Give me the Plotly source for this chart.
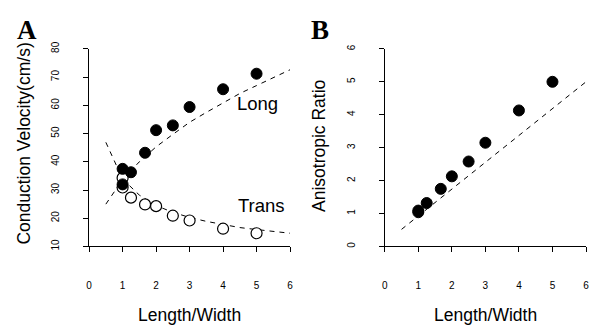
import plotly.graph_objects as go

# ---- data ----
ratio = [1, 1, 1.25, 1.67, 2, 2.5, 3, 4, 5]
long_cv = [37.5, 32.0, 36.3, 43.2, 51.2, 52.9, 59.4, 65.7, 71.2]
trans_cv = [34.3, 30.9, 27.3, 24.9, 24.3, 20.9, 19.2, 16.3, 14.7]
aniso = [1.09, 1.04, 1.32, 1.75, 2.13, 2.58, 3.15, 4.13, 5.0]

fit_x = [0.5, 1, 1.5, 2, 2.5, 3, 3.5, 4, 4.5, 5, 5.5, 6]
long_fit = [25.0, 33.7, 40.0, 45.3, 49.7, 54.0, 57.5, 61.0, 64.2, 67.0, 69.8, 72.6]
trans_fit = [46.9, 33.9, 28.2, 24.5, 22.1, 20.3, 18.9, 17.7, 16.7, 16.0, 15.3, 14.7]
aniso_fit_x = [0.5, 6]
aniso_fit = [0.52, 5.0]

x_ticks = [0, 1, 2, 3, 4, 5, 6]
cv_ticks = [10, 20, 30, 40, 50, 60, 70, 80]
ar_ticks = [0, 1, 2, 3, 4, 5, 6]

W, H = 589, 332
FONT = "Liberation Sans, Arial, sans-serif"
SERIF = "Liberation Serif, Times New Roman, serif"
DASH = "5px,5px"

fig = go.Figure()

# Panel A
fig.add_trace(go.Scatter(x=fit_x, y=long_fit, mode="lines",
                         line=dict(color="black", width=1, dash=DASH),
                         xaxis="x", yaxis="y", showlegend=False))
fig.add_trace(go.Scatter(x=fit_x, y=trans_fit, mode="lines",
                         line=dict(color="black", width=1, dash=DASH),
                         xaxis="x", yaxis="y", showlegend=False))
fig.add_trace(go.Scatter(x=ratio, y=trans_cv, mode="markers",
                         marker=dict(symbol="circle", size=11, color="white",
                                     line=dict(color="black", width=1.2)),
                         xaxis="x", yaxis="y", showlegend=False))
fig.add_trace(go.Scatter(x=ratio, y=long_cv, mode="markers",
                         marker=dict(symbol="circle", size=11, color="black",
                                     line=dict(color="black", width=1)),
                         xaxis="x", yaxis="y", showlegend=False))

# Panel B
fig.add_trace(go.Scatter(x=aniso_fit_x, y=aniso_fit, mode="lines",
                         line=dict(color="black", width=1, dash=DASH),
                         xaxis="x2", yaxis="y2", showlegend=False))
fig.add_trace(go.Scatter(x=ratio, y=aniso, mode="markers",
                         marker=dict(symbol="circle", size=11, color="black",
                                     line=dict(color="black", width=1)),
                         xaxis="x2", yaxis="y2", showlegend=False))

ydom = [1 - 247.7 / H, 1 - 43.3 / H]

common_x = dict(range=[0, 6], tickvals=x_ticks, showline=True, linecolor="black",
                linewidth=1, ticks="outside", ticklen=5, tickwidth=1, tickcolor="black",
                showgrid=False, zeroline=False, ticklabelstandoff=25,
                tickfont=dict(family=FONT, size=10, color="black"))
common_y = dict(showline=True, linecolor="black", linewidth=1, ticks="outside",
                ticklen=5, tickwidth=1, tickcolor="black", showgrid=False,
                zeroline=False, tickangle=-90, ticklabelstandoff=20,
                tickfont=dict(family=FONT, size=10, color="black"))

fig.update_layout(
    width=W, height=H, margin=dict(l=0, r=0, t=0, b=0),
    paper_bgcolor="white", plot_bgcolor="white",
    xaxis=dict(domain=[87 / W, 290 / W], anchor="y", **common_x),
    yaxis=dict(domain=ydom, range=[10, 80], tickvals=cv_ticks, anchor="x", **common_y),
    xaxis2=dict(domain=[385.7 / W, 1.0], anchor="y2", ticklabeloverflow="allow", **common_x),
    yaxis2=dict(domain=ydom, range=[0, 6], tickvals=ar_ticks, anchor="x2", **common_y),
)

def ann(text, x, y, size, family=FONT, angle=0, bold=False):
    fig.add_annotation(text=("<b>%s</b>" % text) if bold else text,
                       x=x / W, y=1 - y / H, xref="paper", yref="paper",
                       showarrow=False, textangle=angle,
                       font=dict(family=family, size=size, color="black"),
                       xanchor="center", yanchor="middle")

ann("A", 24.5, 23.5, 27, SERIF, bold=True)
ann("B", 320.5, 23.5, 27, SERIF, bold=True)
ann("Conduction Velocity(cm/s)", 21, 141.5, 17.5, angle=-90)
ann("Anisotropic Ratio", 319, 144, 17.5, angle=-90)
ann("Length/Width", 188, 319, 17.5)
ann("Length/Width", 487, 319, 17.5)

fig.add_annotation(text="Long", x=5.04, y=60.6, xref="x", yref="y", showarrow=False,
                   font=dict(family=FONT, size=18.5, color="black"))
fig.add_annotation(text="Trans", x=5.15, y=24.6, xref="x", yref="y", showarrow=False,
                   font=dict(family=FONT, size=18.5, color="black"))

fig.write_html("out.html")
